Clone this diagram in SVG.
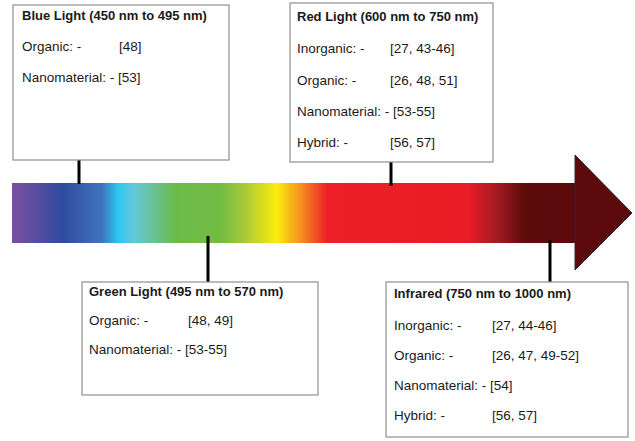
<svg xmlns="http://www.w3.org/2000/svg" width="635" height="441" viewBox="0 0 635 441">
<defs>
<linearGradient id="spec" gradientUnits="userSpaceOnUse" x1="12" y1="0" x2="575" y2="0">
<stop offset="0" stop-color="#7d4f9f"/>
<stop offset="0.02" stop-color="#6a4fa2"/>
<stop offset="0.09" stop-color="#2f4b9e"/>
<stop offset="0.16" stop-color="#3f74bd"/>
<stop offset="0.188" stop-color="#2cc6f2"/>
<stop offset="0.215" stop-color="#62c8dd"/>
<stop offset="0.29" stop-color="#6cbb4a"/>
<stop offset="0.37" stop-color="#72bc42"/>
<stop offset="0.41" stop-color="#a4c83b"/>
<stop offset="0.47" stop-color="#fbec0c"/>
<stop offset="0.51" stop-color="#f6961f"/>
<stop offset="0.56" stop-color="#ec2027"/>
<stop offset="0.81" stop-color="#ea1c25"/>
<stop offset="0.865" stop-color="#9f1a20"/>
<stop offset="0.91" stop-color="#5e0b0c"/>
<stop offset="1" stop-color="#5c0a0b"/>
</linearGradient>
<style>
.box{fill:#ffffff;stroke:#8f8f8f;stroke-width:1.2}
.t{font-family:"Liberation Sans",Arial,sans-serif;font-size:13.5px;fill:#1a1a1a}
.b{font-weight:bold;font-size:13px}
.c{stroke:#000;stroke-width:3}
</style>
</defs>

<g id="spectrum">
<rect x="12" y="183" width="564" height="60" fill="url(#spec)"/>
<polygon points="575,155 632,213 575,270" fill="#5c0a0b" stroke="#2a2a40" stroke-width="1"/>
</g>

<g id="connectors">
<line class="c" x1="79" y1="160" x2="79" y2="184"/>
<line class="c" x1="391" y1="162" x2="391" y2="186"/>
<line class="c" x1="208" y1="236" x2="208" y2="282"/>
<line class="c" x1="550" y1="240" x2="550" y2="282"/>
</g>

<g id="blue">
<rect class="box" x="13" y="5" width="216" height="155"/>
<text class="t b" x="22" y="20">Blue Light (450 nm to 495 nm)</text>
<text class="t" x="22" y="51">Organic: -</text>
<text class="t" x="119" y="51">[48]</text>
<text class="t" x="22" y="82">Nanomaterial: - [53]</text>
</g>

<g id="red">
<rect class="box" x="290" y="3" width="203" height="159"/>
<text class="t b" x="297" y="21">Red Light (600 nm to 750 nm)</text>
<text class="t" x="297" y="53">Inorganic: -</text>
<text class="t" x="390" y="53">[27, 43-46]</text>
<text class="t" x="297" y="85">Organic: -</text>
<text class="t" x="390" y="85">[26, 48, 51]</text>
<text class="t" x="297" y="116">Nanomaterial: - [53-55]</text>
<text class="t" x="297" y="147">Hybrid: -</text>
<text class="t" x="390" y="147">[56, 57]</text>
</g>

<g id="green">
<rect class="box" x="82" y="282" width="236" height="113"/>
<text class="t b" x="89" y="296">Green Light (495 nm to 570 nm)</text>
<text class="t" x="89" y="325">Organic: -</text>
<text class="t" x="188" y="325">[48, 49]</text>
<text class="t" x="89" y="354">Nanomaterial: - [53-55]</text>
</g>

<g id="infrared">
<rect class="box" x="386" y="282" width="242" height="155"/>
<text class="t b" x="394" y="298">Infrared (750 nm to 1000 nm)</text>
<text class="t" x="394" y="330">Inorganic: -</text>
<text class="t" x="492" y="330">[27, 44-46]</text>
<text class="t" x="394" y="360">Organic: -</text>
<text class="t" x="492" y="360">[26, 47, 49-52]</text>
<text class="t" x="394" y="390">Nanomaterial: - [54]</text>
<text class="t" x="394" y="420">Hybrid: -</text>
<text class="t" x="492" y="420">[56, 57]</text>
</g>
</svg>
